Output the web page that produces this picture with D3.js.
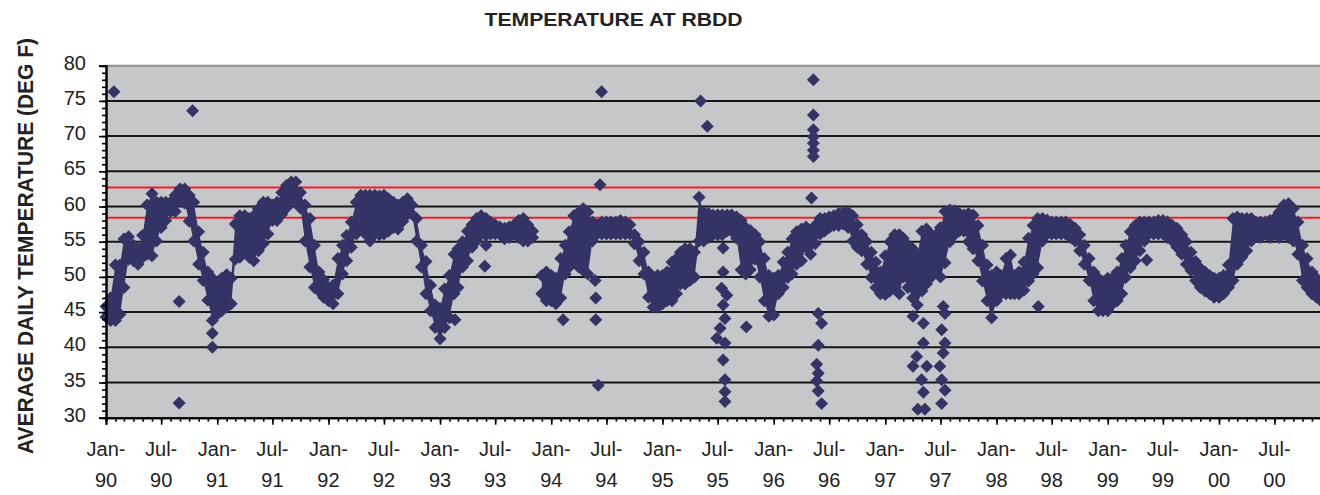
<!DOCTYPE html>
<html><head><meta charset="utf-8">
<script src="https://cdn.jsdelivr.net/npm/d3@7"></script>
<style>
body{margin:0;background:#fff;overflow:hidden}
svg{display:block}
text{font-family:"Liberation Sans",Arial,Helvetica,sans-serif}
</style>
</head><body>
<svg id="chart" width="1320" height="495"></svg>
<script>
// Daily temperature envelope: one [low, high] pair per half-month (1st, 16th)
const band1990 = [[44.3,45.8],[43.8,47],[43.8,51.7],[44.7,51.7],[48.5,55.4],[52.5,55.7],[52.3,54.5],[51.8,54.0],[52.8,55.9],[53.2,60.2],[53.0,61.8],[55.1,60.6],[57.0,60.6],[58.0,60.6],[59.3,60.6],[59.3,61.6],[60.8,62.5],[60.5,62.5],[57.9,61.6],[55.1,60.6],[51.8,56.4],[49.5,53.5],[46.7,50.7],[43.8,49.8]];
const band1991 = [[44.7,48.8],[45.2,49.8],[45.7,50.3],[46.2,49.8],[52.5,57.5],[52.8,58.7],[53.7,58.7],[52.8,58.3],[52.3,58.7],[53.7,59.7],[54.7,60.6],[56.1,60.6],[58.0,60.2],[58.0,60.6],[58.9,62.0],[59.8,63.0],[60.8,63.5],[60.8,63.5],[59.8,62.0],[55.1,60.2],[51.4,58.3],[48.5,54.5],[48.0,50.7],[47.1,49.6]];
const band1992 = [[46.6,48.5],[46.2,48.8],[47.6,52.6],[50.4,54.5],[52.3,55.9],[54.2,57.8],[56.1,60.6],[57.0,61.6],[56.1,61.6],[55.1,61.6],[56.1,61.6],[56.0,61.5],[56.1,61.6],[56.5,61.1],[57.0,60.6],[56.8,60.2],[57.9,60.6],[58.9,61.1],[58.9,60.2],[55.1,58.3],[51.4,54.5],[47.6,52.2],[45.2,48.8],[42.8,46.0]];
const band1993 = [[41.2,45.5],[42.8,48.3],[44.2,50.2],[47.6,53.2],[48.5,54.0],[51.4,55.0],[52.3,56.5],[54.2,57.4],[55.1,58.3],[56.1,58.7],[54.5,58.3],[56.1,57.8],[56.1,57.4],[56.1,57.1],[55.4,56.9],[55.6,57.1],[56.1,57.4],[55.6,58.0],[55.1,58.3],[55.1,57.4],[55.6,56.5],null,[47.6,50.2],[46.6,50.7]];
const band1994 = [[46.6,50.2],[46.2,49.8],[47.0,52.6],[50.4,54.5],[51.4,56.4],[52.3,58.7],[51.4,59.2],[50.9,59.7],[50.4,59.2],[55.1,57.8],[56.1,57.4],[56.1,57.8],[56.1,57.8],[56.1,57.8],[56.1,57.8],[56.1,58.0],[56.1,57.8],[56.1,57.4],[54.7,56.0],[52.3,55.0],[50.4,53.5],[47.1,50.7],[45.7,49.8],[45.7,50.2]];
const band1995 = [[46.2,50.2],[46.6,50.7],[46.6,52.1],[47.6,52.6],[49.0,53.5],[49.0,54.0],[49.5,54.0],[50.0,53.5],[55.1,61.3],[55.1,59.2],[55.6,59.0],[56.0,58.8],[56.0,58.8],[56.0,58.8],[56.5,58.8],[56.5,58.8],[55.5,58.5],[51.0,58.0],[50.4,57.0],[51.0,56.6],[52.5,56.0],[50.0,55.0],[46.6,52.6],[44.4,50.2]];
const band1996 = [[44.6,49.8],[47.6,50.2],[48.5,52.1],[49.9,53.5],[50.4,55.4],[51.8,56.4],[52.3,56.8],[54.2,57.1],[53.2,56.4],[54.7,57.3],[56.1,58.3],[56.5,58.3],[57.0,58.5],[57.3,58.7],[57.3,59.0],[57.5,59.2],[57.0,59.2],[55.1,58.7],[54.2,57.4],[53.7,56.0],[51.8,55.0],[49.9,53.5],[48.5,52.1],[47.6,50.7]];
const band1997 = [[47.5,53.0],[48.0,55.0],[48.5,56.0],[47.6,56.0],[50.0,55.5],[48.5,54.5],[47.0,54.0],[46.0,53.0],[48.0,56.5],[49.0,56.8],[50.0,56.0],[51.0,56.0],[50.0,57.0],[52.0,59.3],[55.0,59.5],[56.0,59.4],[56.5,59.0],[56.5,58.8],[55.0,59.0],[54.0,58.8],[52.3,57.3],[49.4,54.5],[46.6,51.7],[44.2,50.2]];
const band1998 = [[46.6,50.7],[47.6,50.2],[47.6,52.6],[47.6,53.1],[47.6,50.2],[47.6,50.7],[48.1,52.1],[49.4,55.5],[50.4,57.3],[51.3,58.3],[55.1,58.3],[56.1,58.1],[56.1,57.8],[56.1,57.8],[56.1,57.8],[56.1,57.8],[55.6,57.4],[55.1,56.9],[53.7,56.0],[51.8,54.5],[49.5,52.6],[46.6,50.7],[45.2,49.8],[45.2,49.3]];
const band1999 = [[45.2,49.8],[46.1,49.8],[46.6,50.7],[47.6,52.6],[49.9,54.5],[51.3,56.4],[52.3,57.3],[53.7,57.8],[55.1,57.8],[56.1,57.8],[56.1,57.8],[56.1,58.0],[56.1,58.0],[55.6,57.8],[55.1,57.3],[54.2,56.9],[53.2,56.0],[51.8,55.0],[50.9,53.5],[49.5,52.2],[48.5,51.2],[48.0,50.7],[47.6,50.2],[47.1,49.8]];
const band2000 = [[47.1,49.8],[47.6,50.2],[48.5,51.7],[49.5,58.3],[51.8,58.5],[52.8,58.3],[53.7,58.3],[55.1,58.3],[56.1,57.8],[55.6,57.8],[56.1,57.8],[55.6,58.0],[56.1,58.3],[55.6,59.2],[56.1,60.2],[55.6,60.4],[55.1,59.7],[53.2,57.8],[49.5,54.5],[48.5,52.6],[47.6,50.7],[47.1,49.8],[46.6,49.3]];

// Isolated daily readings away from the main band
const outlierDates = ["1990-01-27","1990-08-29","1990-08-29","1990-10-12","1990-12-16","1990-12-16",
 "1993-02-19","1993-05-28",
 "1994-02-09","1994-05-25","1994-05-27","1994-05-27","1994-06-04","1994-06-10","1994-06-15",
 "1995-05-06","1995-05-28","1995-07-19","1995-07-19","1995-07-14","1995-07-31","1995-07-19","1995-07-25","1995-07-09","1995-06-28","1995-07-25","1995-07-19","1995-07-25","1995-07-25","1995-07-25","1995-10-03",
 "1996-05-04","1996-05-10","1996-05-10","1996-05-10","1996-05-10","1996-05-10","1996-05-10","1996-05-10",
 "1996-05-26","1996-06-06","1996-05-26","1996-05-21","1996-05-26","1996-05-21","1996-05-26","1996-06-06",
 "1997-04-02","1997-05-06","1997-05-06","1997-04-14","1997-05-17","1997-04-02","1997-04-30","1997-05-06","1997-05-11","1997-04-18",
 "1997-07-10","1997-07-16","1997-07-05","1997-07-16","1997-07-10","1997-06-29","1997-07-05","1997-07-16","1997-07-05",
 "1998-05-18","1999-05-09"];
const outlierValues = [76.3,46.5,32.1,73.6,42.0,40.0,
 43.9,51.5,
 43.9,49.5,47.0,43.9,34.6,63.1,76.3,
 75.0,71.4,54.1,50.7,48.4,47.4,46.0,44.1,42.7,41.3,40.6,38.2,35.4,33.7,32.3,42.9,
 61.2,78.0,73.0,70.9,69.9,69.0,68.0,67.1,
 44.8,43.4,40.3,37.6,36.3,35.2,33.8,32.0,
 44.4,43.4,40.6,38.7,37.3,37.3,35.4,33.6,31.2,31.2,
 45.8,44.8,42.5,40.6,39.2,37.3,35.4,33.9,32.0,
 45.8,52.4];

const yTicks = [30,35,40,45,50,55,60,65,70,75,80];
const limitLines = [62.7, 58.4];
const titleText = "TEMPERATURE AT RBDD";
const yTitle = "AVERAGE DAILY TEMPERATURE (DEG F)";

const bandYears = [[1990,band1990],[1991,band1991],[1992,band1992],[1993,band1993],[1994,band1994],[1995,band1995],[1996,band1996],[1997,band1997],[1998,band1998],[1999,band1999],[2000,band2000]];
const records = [];
bandYears.forEach(([yr, arr]) => arr.forEach((p, i) => {
  records.push({date: new Date(yr, Math.floor(i/2), i%2 ? 16 : 1), lo: p ? p[0] : null, hi: p ? p[1] : null});
}));
const parse = d3.timeParse("%Y-%m-%d");
const outliers = outlierDates.map((d,i) => ({date: parse(d), v: outlierValues[i]}));

const svg = d3.select("#chart");
const t0 = new Date(1990,0,1), t1 = new Date(2000,0,1), tEnd = new Date(2001,0,1);
const left = 106, x2000 = 1219;
const xEnd = left + (x2000-left) * (tEnd - t0) / (t1 - t0);
const x = d3.scaleTime().domain([t0, tEnd]).range([left, xEnd]);
const y = d3.scaleLinear().domain([30, 80]).range([417.7, 65.7]);

const ink = "#333366";

// plot background
svg.append("rect").attr("x", left).attr("y", y(80)).attr("width", xEnd-left).attr("height", y(30)-y(80)).attr("fill", "#c6c7c9");

// gridlines
svg.append("g").selectAll("line").data(yTicks.filter(v => v>30 && v<80)).join("line")
  .attr("x1", left).attr("x2", xEnd).attr("y1", d=>y(d)).attr("y2", d=>y(d))
  .attr("stroke", "#151515").attr("stroke-width", 2);
svg.append("line").attr("x1", left).attr("x2", xEnd).attr("y1", y(80)).attr("y2", y(80)).attr("stroke", "#8c8c8c").attr("stroke-width", 2);

// limit lines
svg.append("g").selectAll("line").data(limitLines).join("line")
  .attr("x1", left).attr("x2", xEnd).attr("y1", d=>y(d)).attr("y2", d=>y(d))
  .attr("stroke", "#f0202a").attr("stroke-width", 2.2);

// data band
const plot = svg.append("g");
plot.append("path").datum(records)
  .attr("d", d3.area().defined(d => d.lo != null).x(d => x(d.date)).y0(d => y(d.lo)).y1(d => y(d.hi)))
  .attr("fill", ink);

const pts = [];
records.forEach(r => { if (r.lo != null) { pts.push({date:r.date, v:r.lo}); pts.push({date:r.date, v:r.hi}); } });
const diamond = d3.symbol(d3.symbolSquare, 84);
plot.append("g").selectAll("path").data(pts.concat(outliers)).join("path")
  .attr("d", diamond)
  .attr("transform", d => `translate(${x(d.date)},${y(d.v)}) rotate(45)`)
  .attr("fill", ink);

// y axis
const yMinor = svg.append("g").attr("transform", `translate(${left},0)`)
  .call(d3.axisLeft(y).tickValues(d3.range(30, 81, 1)).tickSize(4).tickFormat(""));
const yMajor = svg.append("g").attr("transform", `translate(${left},0)`)
  .call(d3.axisLeft(y).tickValues(yTicks).tickSize(7).tickPadding(13).tickFormat(d3.format("d")));
[yMinor, yMajor].forEach(g => {
  g.select(".domain").attr("stroke", "#000").attr("stroke-width", 2);
  g.selectAll(".tick line").attr("stroke", "#000").attr("stroke-width", 1.6);
});
yMajor.selectAll(".tick text").attr("font-size", 20).attr("fill", "#222").attr("dy", "0.18em")
  .style("font-family", '"Liberation Sans", Arial, sans-serif');

// x axis
const yBase = y(30);
const xMinor = svg.append("g").attr("transform", `translate(0,${yBase})`)
  .call(d3.axisBottom(x).tickValues(d3.timeMonth.range(t0, tEnd)).tickSize(4).tickFormat(""));
const majorDates = d3.timeMonth.every(6).range(t0, tEnd);
const xMajor = svg.append("g").attr("transform", `translate(0,${yBase})`)
  .call(d3.axisBottom(x).tickValues(majorDates).tickSize(7).tickFormat(""));
[xMinor, xMajor].forEach(g => {
  g.select(".domain").attr("stroke", "#000").attr("stroke-width", 2);
  g.selectAll(".tick line").attr("stroke", "#000").attr("stroke-width", 1.6);
});
const fmtM = d3.timeFormat("%b-"), fmtY = d3.timeFormat("%y");
const lbl = svg.append("g").selectAll("text").data(majorDates.filter(d => x(d) < 1300)).join("text")
  .attr("text-anchor", "middle").attr("font-size", 20).attr("fill", "#222");
lbl.append("tspan").attr("x", d => x(d)).attr("y", 456).text(fmtM);
lbl.append("tspan").attr("x", d => x(d)).attr("y", 487).text(fmtY);

// titles
svg.append("text").attr("x", 613.5).attr("y", 26).attr("text-anchor", "middle")
  .attr("font-size", 18).attr("font-weight", "bold").attr("fill", "#222")
  .attr("textLength", 258).attr("lengthAdjust", "spacingAndGlyphs").text(titleText);
svg.append("text").attr("transform", "translate(33,246) rotate(-90)").attr("text-anchor", "middle")
  .attr("font-size", 22).attr("font-weight", "bold").attr("fill", "#222")
  .attr("textLength", 416).attr("lengthAdjust", "spacingAndGlyphs").text(yTitle);
</script>
</body></html>
